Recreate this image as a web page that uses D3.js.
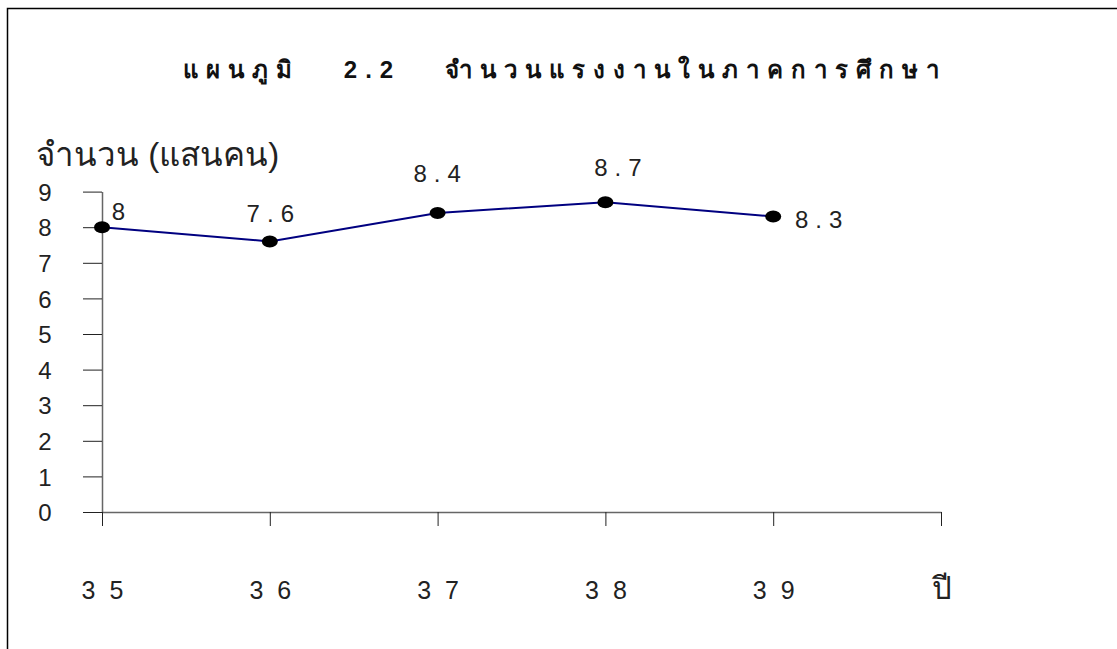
<!DOCTYPE html>
<html>
<head>
<meta charset="utf-8">
<script src="https://cdn.jsdelivr.net/npm/d3@7"></script>
<style>
  body { margin: 0; background: #fff; }
  svg { display: block; font-family: "Liberation Sans", "Noto Sans", sans-serif; }
</style>
</head>
<body>
<div id="chart"></div>
<script>
// data
var years = ["35", "36", "37", "38", "39"];
var workers = [8, 7.6, 8.4, 8.7, 8.3];      // hundred thousand people
var yTicks = [0, 1, 2, 3, 4, 5, 6, 7, 8, 9];
var xEndLabel = "ปี";
var title = "แผนภูมิ   2.2   จำนวนแรงงานในภาคการศึกษา";
var yTitle = "จำนวน (แสนคน)";

// hand placed label offsets (px) like the original sheet
var labelDx = [20, 4, 3, 16, 49];
var labelDy = [-7, -19, -31, -26, 11];

var W = 1117, H = 649;

var svg = d3.select("#chart").append("svg")
    .attr("width", W)
    .attr("height", H);

// frame (right and bottom edges run off the page)
svg.append("rect")
    .attr("x", 7.5).attr("y", 8.5)
    .attr("width", W + 20).attr("height", H + 20)
    .attr("fill", "none")
    .attr("stroke", "#000")
    .attr("stroke-width", 1.5);

// scales
var x = d3.scaleLinear().domain([0, years.length]).range([102, 941]);
var y = d3.scaleLinear().domain([0, 9]).range([512, 191.6]);

// title
svg.append("text")
    .attr("x", 565).attr("y", 78)
    .attr("text-anchor", "middle")
    .style("font-size", "24px")
    .style("font-weight", "bold")
    .style("letter-spacing", "8px")
    .style("white-space", "pre")
    .attr("fill", "#111")
    .text(title);

// y title
svg.append("text")
    .attr("x", 36).attr("y", 166)
    .style("font-size", "33px")
    .attr("fill", "#222")
    .text(yTitle);

// y axis
var yAxis = svg.append("g")
    .attr("transform", "translate(102,0)")
    .call(d3.axisLeft(y).tickValues(yTicks).tickSize(19).tickSizeOuter(0).tickFormat(d3.format("d")));
yAxis.select(".domain").attr("stroke", "#666").attr("stroke-width", 1.5);
yAxis.selectAll(".tick line").attr("stroke", "#222");
yAxis.selectAll(".tick text")
    .attr("x", -57)
    .attr("text-anchor", "middle")
    .attr("dy", "0.36em")
    .style("font-size", "24px")
    .attr("fill", "#222");

// x axis
var xLabels = years.concat([xEndLabel]);
var xAxis = svg.append("g")
    .attr("transform", "translate(0,512)")
    .call(d3.axisBottom(x).tickValues(d3.range(xLabels.length)).tickSize(14).tickSizeOuter(0)
        .tickFormat(function(i) { return xLabels[i]; }));
xAxis.select(".domain").attr("stroke", "#666").attr("stroke-width", 1.5);
xAxis.selectAll(".tick line").attr("stroke", "#222");
xAxis.selectAll(".tick text")
    .attr("y", 87)
    .attr("dy", 0)
    .attr("dx", function(i) { return i < years.length ? 7 : 0; })
    .style("font-size", function(i) { return i < years.length ? "25px" : "31px"; })
    .style("letter-spacing", function(i) { return i < years.length ? "14px" : "0px"; })
    .attr("fill", "#222");

// series line
var line = d3.line()
    .x(function(d, i) { return x(i); })
    .y(function(d) { return y(d); });

svg.append("path")
    .datum(workers)
    .attr("fill", "none")
    .attr("stroke", "#000080")
    .attr("stroke-width", 2)
    .attr("d", line);

// markers
svg.selectAll(".dot")
    .data(workers)
  .enter().append("ellipse")
    .attr("class", "dot")
    .attr("cx", function(d, i) { return x(i); })
    .attr("cy", function(d) { return y(d); })
    .attr("rx", 8)
    .attr("ry", 6)
    .attr("fill", "#000");

// value labels
svg.selectAll(".val")
    .data(workers)
  .enter().append("text")
    .attr("class", "val")
    .attr("x", function(d, i) { return x(i) + labelDx[i]; })
    .attr("y", function(d, i) { return y(d) + labelDy[i]; })
    .attr("text-anchor", "middle")
    .style("font-size", "24px")
    .style("letter-spacing", "7px")
    .attr("fill", "#222")
    .text(function(d) { return String(d); });
</script>
</body>
</html>
